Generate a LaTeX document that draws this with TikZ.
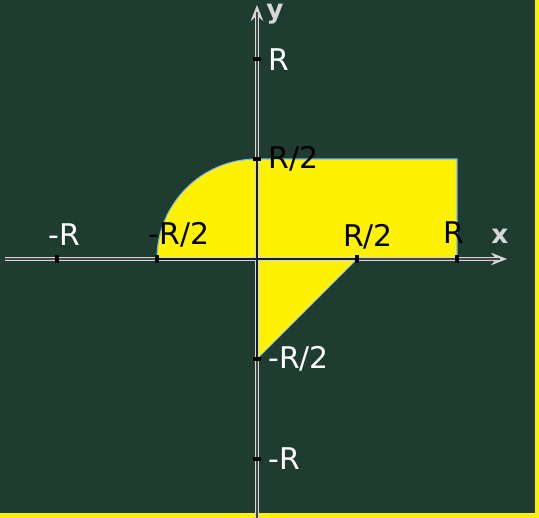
\documentclass[tikz,border=0pt]{standalone}
\usepackage{fontspec}
\setmainfont{DejaVu Sans}
\usetikzlibrary{arrows.meta}
\definecolor{board}{RGB}{30,61,48}
\definecolor{chalkyellow}{RGB}{255,242,0}
\definecolor{edgeblue}{RGB}{125,185,235}
\definecolor{axisgray}{RGB}{215,215,215}
\definecolor{axiscore}{RGB}{70,70,70}
\definecolor{navy}{RGB}{20,30,55}

\begin{document}
\begin{tikzpicture}[x=0.02cm, y=0.02cm, >=Stealth,
    axisline/.style={draw=axisgray, line width=2.4pt},
    axiscoreline/.style={draw=axiscore, line width=0.8pt},
    tickmark/.style={draw=black, line width=2pt},
    lblw/.style={text=white, inner sep=0pt, font=\fontsize{17}{20}\selectfont},
    lblb/.style={text=black, inner sep=0pt, font=\fontsize{17}{20}\selectfont},
    axlbl/.style={text=axisgray, inner sep=0pt, font=\bfseries\fontsize{15}{18}\selectfont}]
    % board
    \useasboundingbox (-257,-259) rectangle (282,259);
    \fill[chalkyellow] (-257,-259) rectangle (282,259);
    \fill[board] (-257,-254) rectangle (278,259);
    % region
    \fill[chalkyellow] (-100,0) arc[start angle=180, end angle=90, radius=100]
        -- (200,100) -- (200,0) -- (100,0) -- (0,-100) -- (0,0) -- cycle;
    \draw[edgeblue, line width=0.6pt] (-100,0) arc[start angle=180, end angle=90, radius=100]
        -- (200,100) -- (200,0);
    \draw[edgeblue, line width=0.6pt] (100,0) -- (0,-100);
    % axes
    \coordinate (xl) at (-252,0);
    \coordinate (xr) at (250,0);
    \coordinate (yb) at (0,-259);
    \coordinate (yt) at (0,254);
    \draw[axisline, -{Stealth[length=9pt, width=7pt]}] (xl) -- (xr);
    \draw[axiscoreline] (xl) -- (243,0);
    \draw[axisline, -{Stealth[length=9pt, width=7pt]}] (yb) -- (yt);
    \draw[axiscoreline] (yb) -- (0,247);
    \draw[navy, line width=1.2pt] (-100,0) -- (100,0);
    \draw[navy, line width=1.2pt] (0,-100) -- (0,100);
    % ticks
    \foreach \t in {-200,-100,100,200} {
        \coordinate (tx\t) at (\t,0);
        \coordinate (ty\t) at (0,\t);
        \draw[tickmark] (tx\t) ++(0,-4) -- ++(0,8);
        \draw[tickmark] (ty\t) ++(-4,0) -- ++(8,0);
    }
    % labels
    \node[lblw] (ylR) at (22,199) {R};
    \node[lblb, anchor=west] (ylRh) at (11,100) {R/2};
    \node[lblw, anchor=west] (ylmRh) at (11,-100) {-R/2};
    \node[lblw, anchor=west] (ylmR) at (11,-200) {-R};
    \node[lblw] (xlmR) at (-193,24) {-R};
    \node[lblb] (xlmRh) at (-78,24) {-R/2};
    \node[lblb] (xlRh) at (111,22) {R/2};
    \node[lblb] (xlR) at (197,26) {R};
    \node[axlbl] (xname) at (243,23) {x};
    \node[axlbl] (yname) at (18,245) {y};
\end{tikzpicture}
\end{document}
